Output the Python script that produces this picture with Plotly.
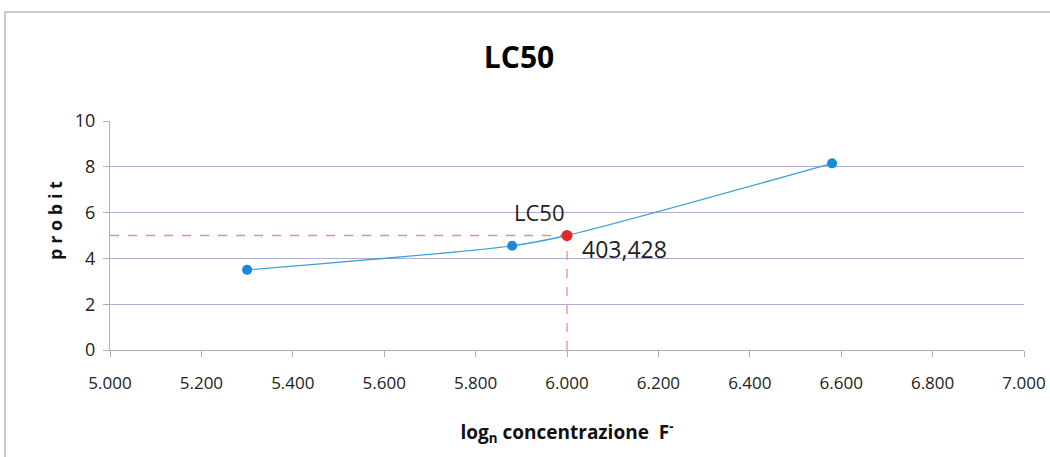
import plotly.graph_objects as go

# data
x_points = [5.30, 5.88, 6.58]
y_points = [3.5, 4.55, 8.15]
lc50_x = [6.0]
lc50_y = [5.0]
curve_x = [5.30, 5.88, 6.0, 6.58]
curve_y = [3.5, 4.55, 5.0, 8.15]
x_ticks = [5.0, 5.2, 5.4, 5.6, 5.8, 6.0, 6.2, 6.4, 6.6, 6.8, 7.0]
y_ticks = [0, 2, 4, 6, 8, 10]

FONT = "Open Sans"

fig = go.Figure()
# dashed guide lines
fig.add_trace(go.Scatter(x=[5.0, lc50_x[0]], y=[lc50_y[0], lc50_y[0]], mode="lines",
                         line=dict(color="#e89090", width=1.3, dash="dash"), hoverinfo="skip"))
fig.add_trace(go.Scatter(x=[lc50_x[0], lc50_x[0]], y=[0, lc50_y[0]], mode="lines",
                         line=dict(color="#e89090", width=1.3, dash="dash"), hoverinfo="skip"))
# smoothed curve
fig.add_trace(go.Scatter(x=curve_x, y=curve_y, mode="lines",
                         line=dict(color="#3aa0d8", width=1.3, shape="spline", smoothing=0.8)))
fig.add_trace(go.Scatter(x=x_points, y=y_points, mode="markers",
                         marker=dict(color="#1a8ad8", size=10)))
fig.add_trace(go.Scatter(x=lc50_x, y=lc50_y, mode="markers",
                         marker=dict(color="#e02828", size=11)))

fig.add_annotation(x=lc50_x[0], y=lc50_y[0], text="LC50", showarrow=False,
                   xanchor="right", yanchor="bottom", xshift=0, yshift=7,
                   font=dict(family=FONT, size=22, color="#222222"))
fig.add_annotation(x=lc50_x[0], y=lc50_y[0], text="403,428", showarrow=False,
                   xanchor="left", yanchor="top", xshift=13, yshift=5,
                   font=dict(family=FONT, size=23, color="#222222"))

# y-axis title placed as rotated annotation
fig.add_annotation(xref="paper", yref="paper", x=-0.0602, y=0.568, text="<b>p r o b i t</b>",
                   textangle=-90, showarrow=False, xanchor="center", yanchor="middle",
                   font=dict(family=FONT, size=18, color="#111111"))

# outer frame
fig.add_shape(type="rect", xref="paper", yref="paper", x0=-0.1149, x1=1.1, y0=-0.6, y1=1.476,
              line=dict(color="#b8b8b8", width=1.5), fillcolor="rgba(0,0,0,0)", layer="below")

fig.update_layout(
    width=1050, height=457,
    margin=dict(l=110, r=26, t=121, b=107, autoexpand=False),
    paper_bgcolor="white", plot_bgcolor="white",
    showlegend=False,
    title=dict(text="<b>LC50</b>", x=0.4943, xanchor="center", y=0.875, yanchor="middle",
               font=dict(family=FONT, size=30, color="black")),
    font=dict(family=FONT, color="#222222"),
)
fig.update_xaxes(range=[5.0, 7.0], tickvals=x_ticks, tickformat=".3f", automargin=False,
                 showgrid=False, zeroline=False, showline=True, linecolor="#b0b0b0", linewidth=1.2,
                 ticks="outside", tickcolor="#b0b0b0", ticklen=6, ticklabelstandoff=11,
                 tickfont=dict(family=FONT, size=17, color="#222222"),
                 title=dict(text="<b>log<sub>n</sub> concentrazione  F<sup>-</sup></b>",
                            font=dict(family=FONT, size=19, color="#111111"), standoff=33))
fig.update_yaxes(range=[0, 10], tickvals=y_ticks, automargin=False,
                 showgrid=True, gridcolor="#aeaed0", gridwidth=1.2,
                 zeroline=False, showline=True, linecolor="#b0b0b0", linewidth=1.2,
                 ticks="outside", tickcolor="#b0b0b0", ticklen=6, ticklabelstandoff=4,
                 tickfont=dict(family=FONT, size=18, color="#222222"))

fig.write_html("out.html", config={"displayModeBar": False},
               post_script="document.body.style.margin='0';document.body.style.overflow='hidden';")
